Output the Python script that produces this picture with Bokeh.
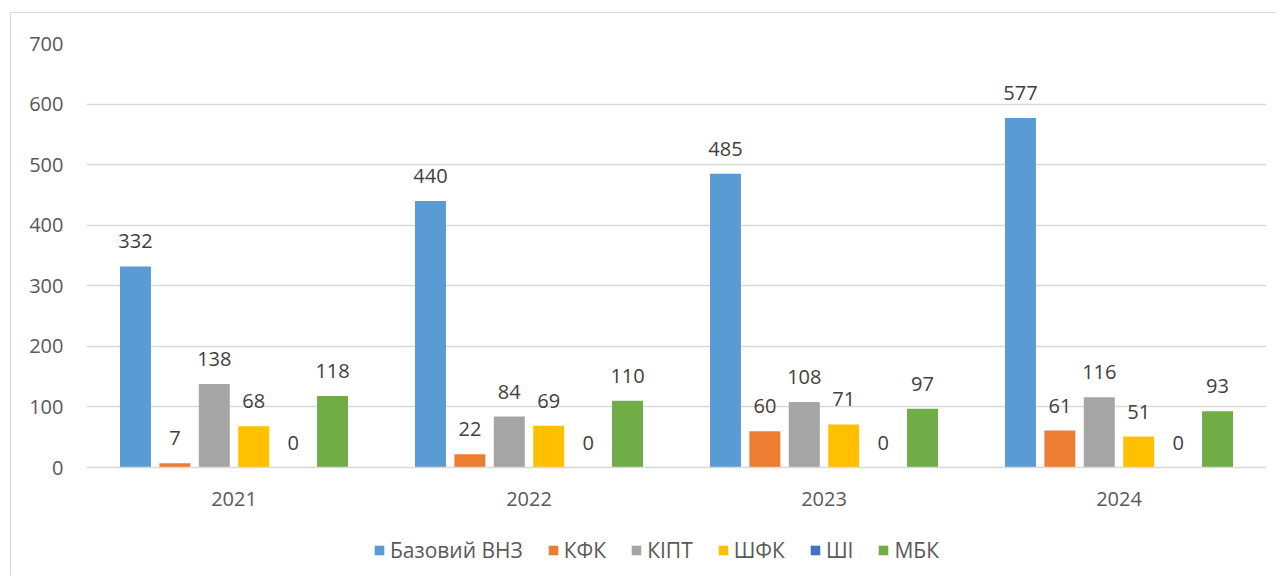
from bokeh.plotting import figure
from bokeh.models import ColumnDataSource, FactorRange, Legend, LegendItem, Range1d
from bokeh.layouts import column
from bokeh.transform import dodge
from bokeh.core.properties import value
from bokeh.embed import file_html
from bokeh.resources import INLINE

years = ["2021", "2022", "2023", "2024"]
series = ["Базовий ВНЗ", "КФК", "КІПТ", "ШФК", "ШІ", "МБК"]
base_vnz = [332, 440, 485, 577]
kfk = [7, 22, 60, 61]
kipt = [138, 84, 108, 116]
shfk = [68, 69, 71, 51]
shi = [0, 0, 0, 0]
mbk = [118, 110, 97, 93]
y_ticks = [0, 100, 200, 300, 400, 500, 600, 700]

colors = ["#5B9BD5", "#ED7D31", "#A5A5A5", "#FFC000", "#4472C4", "#70AD47"]
values_list = [base_vnz, kfk, kipt, shfk, shi, mbk]

FONT = "Open Sans"

p = figure(x_range=FactorRange(*years, range_padding=0), y_range=Range1d(0, 700),
           frame_width=1180, frame_height=424, output_backend="svg", toolbar_location=None,
           min_border_left=75, min_border_right=10, min_border_top=30, min_border_bottom=60)
p.outline_line_color = None
p.background_fill_color = "white"
p.border_fill_color = "white"

# separate strip that holds only the legend, below the chart
# (its y-range lies above the data, so its bars only serve as legend swatches)
lg = figure(x_range=FactorRange(*years, range_padding=0), y_range=Range1d(1000, 1001),
            width=1265, height=48, output_backend="svg", toolbar_location=None,
            x_axis_type=None, y_axis_type=None, min_border=0)
lg.outline_line_color = None
lg.xgrid.grid_line_color = None
lg.ygrid.grid_line_color = None
lg.border_fill_color = "white"

pitch = 0.1336
bar_w = 0.105
items = []
for i, (name, vals, col) in enumerate(zip(series, values_list, colors)):
    off = (i - 2.5) * pitch
    src = ColumnDataSource(dict(year=years, v=vals, t=[str(v) for v in vals]))
    p.vbar(x=dodge("year", off, range=p.x_range), top="v", width=bar_w, source=src,
           fill_color=col, line_color=None)
    p.text(x=dodge("year", off, range=p.x_range), y="v", text="t", source=src,
           text_align="center", text_baseline="bottom", y_offset=-18,
           text_font=value(FONT), text_font_size="20px", text_color="#404040")
    lr = lg.vbar(x=dodge("year", off, range=lg.x_range), top="v", width=bar_w, source=src,
                 fill_color=col, line_color=None)
    items.append(LegendItem(label=name, renderers=[lr]))

legend = Legend(items=items, orientation="horizontal", location=(287, 11),
                label_text_font=FONT, label_text_font_size="21px", label_text_color="#595959",
                glyph_width=12, glyph_height=12, label_standoff=5, spacing=24,
                border_line_color=None, background_fill_alpha=0, margin=0, padding=0)
lg.add_layout(legend, "center")

p.yaxis.ticker = y_ticks
p.yaxis.axis_line_color = None
p.yaxis.major_tick_line_color = None
p.yaxis.minor_tick_line_color = None
p.yaxis.major_label_standoff = 17
p.yaxis.major_label_text_font = FONT
p.yaxis.major_label_text_font_size = "20px"
p.yaxis.major_label_text_color = "#595959"

p.xaxis.axis_line_color = "#d9d9d9"
p.xaxis.axis_line_width = 1.5
p.xaxis.major_tick_line_color = None
p.xaxis.minor_tick_line_color = None
p.xaxis.major_label_standoff = 18
p.xaxis.major_label_text_font = FONT
p.xaxis.major_label_text_font_size = "20px"
p.xaxis.major_label_text_color = "#595959"

p.xgrid.grid_line_color = None
p.ygrid.grid_line_color = "#d9d9d9"
p.ygrid.grid_line_width = 1.5

layout = column(p, lg, spacing=0)
layout.styles = {"margin": "12px 0 0 10px", "border-left": "1px solid #d9d9d9",
                 "border-top": "1px solid #d9d9d9", "background-color": "white"}

open("out.html", "w").write(file_html(layout, INLINE))
